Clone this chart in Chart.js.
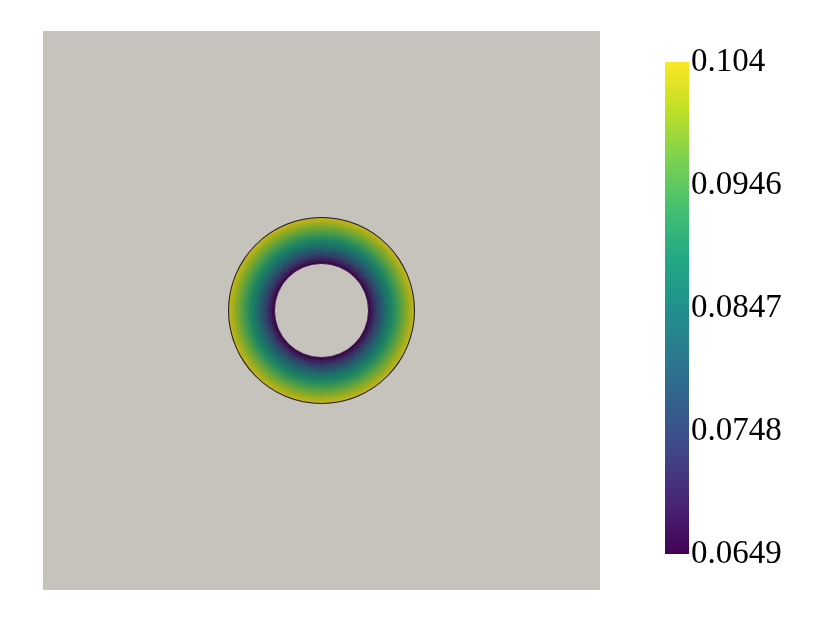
<!DOCTYPE html>
<html>
<head>
<meta charset="utf-8">
<title>Ring field</title>
<script src="https://cdn.jsdelivr.net/npm/chart.js"></script>
<style>
    body { margin: 0; background: #fff; }
    #wrap { position: relative; width: 830px; height: 623px; }
    #ringChart { position: absolute; left: 0; top: 0; }
    #barChart { position: absolute; left: 640px; top: 0; }
</style>
</head>
<body>
<div id="wrap">
    <canvas id="ringChart" width="830" height="623"></canvas>
    <canvas id="barChart" width="190" height="623"></canvas>
</div>

<script>
    // colour range of the field
    const valueMin = 0.0649;
    const valueMax = 0.1045;
    const tickValues = [0.0649, 0.0748, 0.0847, 0.0946, 0.1045];
    const tickLabels = ['0.0649', '0.0748', '0.0847', '0.0946', '0.104'];

    // field value in each ring, from the hole outwards
    const ringValues = [
        0.0654, 0.0669, 0.0687, 0.0704, 0.0722, 0.0740,
        0.0756, 0.0772, 0.0788, 0.0803, 0.0819, 0.0835,
        0.0849, 0.0863, 0.0875, 0.0887, 0.0898, 0.0910,
        0.0922, 0.0934, 0.0944, 0.0954, 0.0966, 0.0976,
        0.0986, 0.0996, 0.1005, 0.1017, 0.1027, 0.1039
    ];

    // viridis
    const viridisStops = ['#440154', '#482475', '#414487', '#355f8d', '#2a788e',
        '#21918c', '#22a884', '#44bf70', '#7ad151', '#bddf26', '#fde725'];

    const bgGray = '#c6c3bc';
    const shade = [0.78, 0.77, 0.74];  // surface lighting on the ring

    function hexRgb(h) {
        return [1, 3, 5].map(i => parseInt(h.substr(i, 2), 16));
    }

    function viridis(v, lit) {
        let t = (v - valueMin) / (valueMax - valueMin);
        t = Math.max(0, Math.min(1, t));
        const pos = t * (viridisStops.length - 1);
        const i = Math.min(Math.floor(pos), viridisStops.length - 2);
        const f = pos - i;
        const a = hexRgb(viridisStops[i]), b = hexRgb(viridisStops[i + 1]);
        const c = a.map((x, k) => {
            let y = x + (b[k] - x) * f;
            if (lit) y *= shade[k];
            return Math.round(y);
        });
        return `rgb(${c[0]}, ${c[1]}, ${c[2]})`;
    }

    const outerR = 93.5;
    const innerR = 47;

    const areaFill = {
        id: 'areaFill',
        beforeDraw(chart) {
            const a = chart.chartArea;
            chart.ctx.save();
            chart.ctx.fillStyle = bgGray;
            chart.ctx.fillRect(a.left, a.top, a.width, a.height);
            chart.ctx.restore();
        }
    };

    // outermost dataset is a thin dark edge, then rings outer -> inner
    const ringSets = [{
        data: [1],
        backgroundColor: '#1e1e1c',
        borderWidth: 0,
        weight: 0.68
    }];
    ringValues.slice().reverse().forEach(v => {
        const col = viridis(v, true);
        ringSets.push({
            data: [1],
            backgroundColor: col,
            borderColor: col,
            borderWidth: 0.8,
            weight: 1
        });
    });

    new Chart(document.getElementById('ringChart'), {
        type: 'doughnut',
        data: { labels: ['field'], datasets: ringSets },
        options: {
            responsive: false,
            animation: false,
            radius: outerR,
            cutout: (innerR / outerR * 100) + '%',
            layout: { padding: { left: 43, top: 31, right: 230, bottom: 33 } },
            plugins: {
                legend: { display: false },
                tooltip: { enabled: false }
            }
        },
        plugins: [areaFill]
    });

    // colour bar
    new Chart(document.getElementById('barChart'), {
        type: 'bar',
        data: {
            labels: [''],
            datasets: [{
                data: [[valueMin, valueMax]],
                borderWidth: 0,
                barPercentage: 1,
                categoryPercentage: 1,
                backgroundColor: function (context) {
                    const chart = context.chart;
                    const area = chart.chartArea;
                    if (!area) return viridisStops[0];
                    const g = chart.ctx.createLinearGradient(0, area.bottom, 0, area.top);
                    viridisStops.forEach((c, i) => g.addColorStop(i / (viridisStops.length - 1), c));
                    return g;
                }
            }]
        },
        options: {
            responsive: false,
            animation: false,
            layout: { padding: { left: 25, right: 21, top: 62, bottom: 69 } },
            plugins: {
                legend: { display: false },
                tooltip: { enabled: false }
            },
            scales: {
                x: { display: false },
                y: {
                    position: 'right',
                    min: valueMin,
                    max: valueMax,
                    grid: { display: false, drawTicks: false, tickLength: 0 },
                    border: { display: false },
                    afterBuildTicks: function (scale) {
                        scale.ticks = tickValues.map(v => ({ value: v }));
                    },
                    afterFit: function (scale) {
                        scale.width = 120;
                    },
                    ticks: {
                        padding: 2,
                        color: '#000',
                        font: { family: 'Liberation Serif', size: 33 },
                        callback: function (value, index) {
                            return tickLabels[index];
                        }
                    }
                }
            }
        }
    });
</script>
</body>
</html>
